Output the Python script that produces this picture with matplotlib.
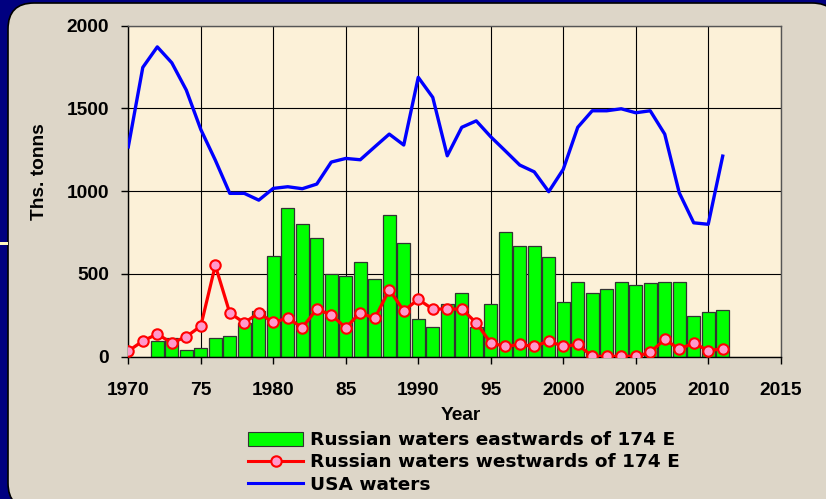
import numpy as np
import matplotlib.pyplot as plt
import matplotlib.patches as mpatches
from matplotlib.lines import Line2D
from matplotlib.transforms import IdentityTransform

plt.rcParams['font.family'] = ['Liberation Sans', 'DejaVu Sans']
plt.rcParams['font.weight'] = 'bold'

years = np.arange(1970, 2012)

# Russian waters eastwards of 174 E (bars), no catch in 1970-71
east_years = np.arange(1972, 2012)
east = [97, 111, 40, 50, 111, 125, 201, 278, 610, 900,
        799, 715, 497, 487, 570, 467, 856, 684, 225, 179,
        316, 382, 179, 316, 751, 670, 670, 600, 328, 453,
        382, 407, 453, 431, 443, 453, 453, 248, 268, 280]

# Russian waters westwards of 174 E
west = [34, 95, 137, 83, 121, 185, 552, 264, 205, 264,
        207, 234, 175, 288, 252, 175, 266, 231, 405, 278,
        346, 288, 288, 288, 205, 83, 62, 74, 62, 95,
        62, 74, 2, 2, 2, 2, 26, 105, 46, 83,
        36, 48]

# USA waters
usa = [1268, 1748, 1872, 1776, 1611, 1373, 1188, 987, 987, 946,
       1017, 1027, 1015, 1043, 1176, 1198, 1190, 1268, 1345, 1279,
       1688, 1567, 1214, 1386, 1425, 1329, 1244, 1158, 1117, 997,
       1132, 1386, 1486, 1486, 1498, 1474, 1486, 1345, 991, 809,
       800, 1212]

xticks = [1970, 1975, 1980, 1985, 1990, 1995, 2000, 2005, 2010, 2015]
xticklabels = ['1970', '75', '1980', '85', '1990', '95', '2000', '2005', '2010', '2015']

fig = plt.figure(figsize=(8.26, 4.99), dpi=100, facecolor='#000080')

# rounded beige slide panel
panel = mpatches.FancyBboxPatch((8, -10), 830, 506,
                                boxstyle='round,pad=0,rounding_size=26',
                                transform=IdentityTransform(), zorder=-5,
                                facecolor='#DDD6C8', edgecolor='black', linewidth=1.2)
fig.patches.append(panel)
fig.patches.append(mpatches.Rectangle((0, 254), 8, 3, transform=IdentityTransform(), zorder=-5,
                                      facecolor='#FFF8C0', edgecolor='none'))

ax = fig.add_axes([128.3 / 826, 1 - 356.7 / 499, (780.7 - 128.3) / 826, (356.7 - 25.7) / 499])
ax.set_facecolor('#FCF1D8')
ax.set_axisbelow(True)

ax.bar(east_years, east, width=0.87, color='#00FF00', edgecolor='#333333', linewidth=0.9,
       zorder=2, label='Russian waters eastwards of 174 E')
ax.plot(years, west, color='#FF0000', linewidth=2.3, marker='o', markersize=7.5,
        markerfacecolor='#FF99CC', markeredgecolor='#FF0000', markeredgewidth=1.5, zorder=3)
ax.plot(years, usa, color='#0000FF', linewidth=2.4, zorder=4)

ax.set_xlim(1970, 2015)
ax.set_ylim(0, 2000)
ax.set_xticks(xticks)
ax.set_xticklabels(xticklabels)
ax.set_yticks([0, 500, 1000, 1500, 2000])
ax.grid(True, color='black', linewidth=0.8)
ax.tick_params(axis='x', direction='out', length=5, width=1, pad=13, labelsize=13.8)
ax.tick_params(axis='y', direction='out', length=5, width=1, pad=9, labelsize=13.8)
for s in ['top', 'right']:
    ax.spines[s].set_color('#555555')
    ax.spines[s].set_linewidth(1.0)
for s in ['left', 'bottom']:
    ax.spines[s].set_color('black')
    ax.spines[s].set_linewidth(1.0)

fig.text(461 / 826, 1 - 416 / 499, 'Year', ha='center', va='center', fontsize=13.8, fontweight='bold')
fig.text(40 / 826, 1 - 172 / 499, 'Ths. tonns', ha='center', va='center', rotation=90,
         fontsize=13.8, fontweight='bold')

handles = [mpatches.Patch(facecolor='#00FF00', edgecolor='#333333', linewidth=0.8),
           Line2D([], [], color='#FF0000', linewidth=2.2, marker='o', markersize=7.5,
                  markerfacecolor='#FF99CC', markeredgecolor='#FF0000', markeredgewidth=1.5),
           Line2D([], [], color='#0000FF', linewidth=2.2)]
labels = ['Russian waters eastwards of 174 E', 'Russian waters westwards of 174 E', 'USA waters']
fig.legend(handles, labels, loc='upper left', bbox_to_anchor=(248 / 826, 1 - 431 / 499),
           frameon=False, borderpad=0, borderaxespad=0, handlelength=3.0, handleheight=0.8,
           handletextpad=0.35, labelspacing=0.24,
           prop={'family': 'DejaVu Sans', 'size': 13.3, 'weight': 'bold'})

fig.savefig('out.png', dpi=100, facecolor=fig.get_facecolor())
